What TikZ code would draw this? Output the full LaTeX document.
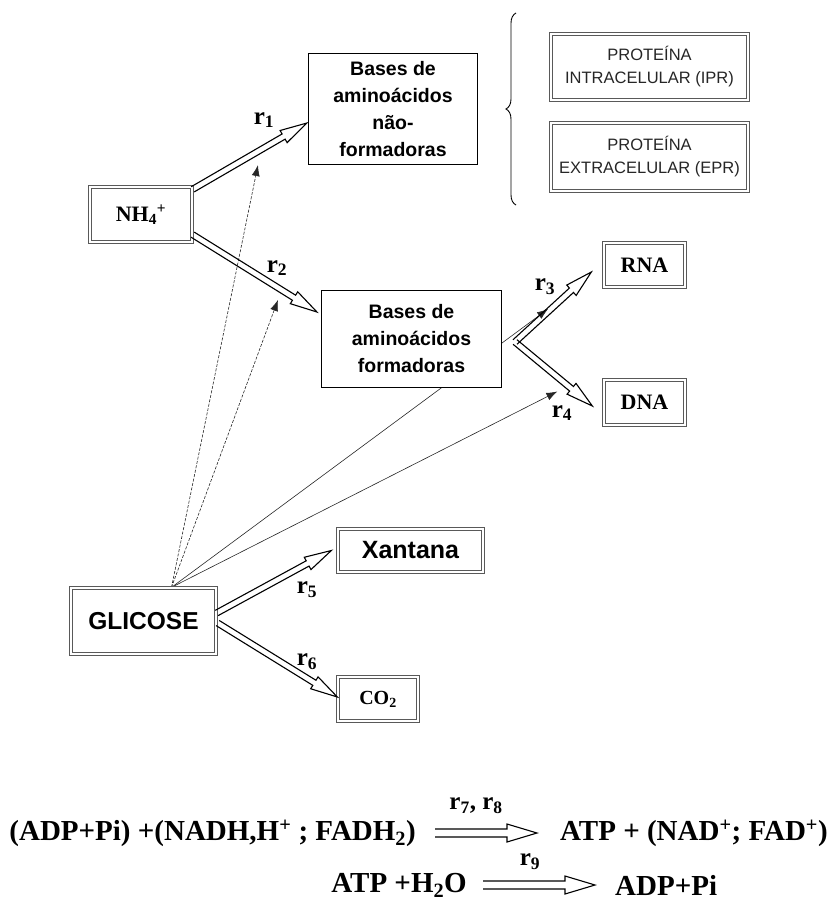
\documentclass[tikz,border=0pt]{standalone}
\usepackage{fontspec}
\setmainfont{Liberation Serif}
\setsansfont{Liberation Sans}
\usetikzlibrary{calc,arrows.meta,decorations.pathreplacing}
\pgfdeclarelayer{bg}
\pgfsetlayers{bg,main}
\tikzset{
 dbox/.style={draw=black!65, line width=1.3pt, double=white, double distance=1.6pt, fill=white, inner sep=0pt, align=center},
 sbox/.style={draw=black, line width=1.1pt, fill=white, inner sep=0pt, align=center},
 hollowline/.style={draw=black, line width=1.1pt, line join=miter},
 thinarrow/.style={draw=black!85, line width=0.6pt, -{Latex[length=11pt,width=8pt]}},
 dashedarrow/.style={thinarrow, dash pattern=on 3pt off 1.5pt},
 rlabel/.style={font=\fontsize{25}{25}\selectfont\bfseries, inner sep=0pt},
 eqtext/.style={font=\fontsize{29}{29}\selectfont\bfseries, inner sep=0pt},
 basesfont/.style={font=\sffamily\bfseries\fontsize{19.5}{27}\selectfont},
 protfont/.style={font=\sffamily\fontsize{16.5}{23}\selectfont, text=black!85},
}
% start, tip, shaft half width, head half width, head length
\newcommand\hollowarrow[5]{%
 \coordinate (ha) at (#1); \coordinate (hb) at (#2);
 \coordinate (hh) at ($(hb)!#5!(ha)$);
 \draw[hollowline] ($(ha)!#3!90:(hb)$) -- ($(hh)!#3!90:(hb)$) -- ($(hh)!#4!90:(hb)$) -- (hb)
   -- ($(hh)!#4!-90:(hb)$) -- ($(hh)!#3!-90:(hb)$) -- ($(ha)!#3!-90:(hb)$);
}
\begin{document}
\begin{tikzpicture}[x=1pt,y=-1pt]
\useasboundingbox (0,0) rectangle (837,903);

% boxes
\node[dbox, minimum width=102pt, minimum height=55pt, font=\fontsize{22}{22}\selectfont\bfseries] (nh4) at (141,214.5) {NH\textsubscript{4}\textsuperscript{+}};
\node[sbox, basesfont, minimum width=169pt, minimum height=111pt] (naof) at (393,109) {Bases de\\aminoácidos\\não-\\formadoras};
\node[dbox, protfont, minimum width=197pt, minimum height=66pt] (ipr) at (649.5,67) {PROTEÍNA\\INTRACELULAR (IPR)};
\node[dbox, protfont, minimum width=197pt, minimum height=68pt] (epr) at (649.5,157) {PROTEÍNA\\EXTRACELULAR (EPR)};
\node[sbox, basesfont, minimum width=180pt, minimum height=97pt] (form) at (411.5,339) {Bases de\\aminoácidos\\formadoras};
\node[dbox, minimum width=81pt, minimum height=44pt, font=\fontsize{22}{22}\selectfont\bfseries] (rna) at (644.5,265) {RNA};
\node[dbox, minimum width=81pt, minimum height=45pt, font=\fontsize{22}{22}\selectfont\bfseries] (dna) at (644.5,402.5) {DNA};
\node[dbox, minimum width=145pt, minimum height=43pt, font=\sffamily\bfseries\fontsize{25}{25}\selectfont] (xan) at (410.5,550.5) {Xantana};
\node[dbox, minimum width=145pt, minimum height=66pt, font=\sffamily\bfseries\fontsize{24.5}{24.5}\selectfont] (gl) at (143.5,621) {GLICOSE};
\node[dbox, minimum width=80pt, minimum height=44pt, font=\fontsize{20}{20}\selectfont\bfseries] (co2) at (378,699) {CO\textsubscript{2}};

% brace
\draw[decorate, decoration={brace, amplitude=10pt}, line width=0.9pt] (516,205) -- (516,13);

% hollow reaction arrows
\coordinate (r1s) at ($(nh4.north east)+(0,3)$);
\coordinate (r1t) at ($(naof.west)+(-1,14)$);
\coordinate (r2s) at ($(nh4.south east)+(0,-8)$);
\coordinate (r2t) at ($(form.west)+(-4,-27)$);
\coordinate (v) at (515,342);
\coordinate (r3t) at ($(rna.west)+(-12,7)$);
\coordinate (r4t) at ($(dna.west)+(-11,3.5)$);
\coordinate (r5s) at ($(gl.east)+(0,-8)$);
\coordinate (r5t) at ($(xan.west)+(-6,0)$);
\coordinate (r6s) at ($(gl.east)+(1,2)$);
\coordinate (r6t) at ($(co2.west)+(0,-2)$);
\hollowarrow{r1s}{r1t}{3pt}{7pt}{27pt}
\hollowarrow{r2s}{r2t}{3pt}{7pt}{27pt}
\hollowarrow{v}{r3t}{3pt}{7pt}{27pt}
\hollowarrow{v}{r4t}{3pt}{7pt}{27pt}
\hollowarrow{r5s}{r5t}{3pt}{7pt}{27pt}
\hollowarrow{r6s}{r6t}{3pt}{7pt}{27pt}

% labels
\node[rlabel] (l1) at (264,120) {r\textsubscript{1}};
\node[rlabel] (l2) at (277,268) {r\textsubscript{2}};
\node[rlabel] (l3) at (545,287) {r\textsubscript{3}};
\node[rlabel] (l4) at (562,413) {r\textsubscript{4}};
\node[rlabel] (l5) at (307,590) {r\textsubscript{5}};
\node[rlabel] (l6) at (307,662) {r\textsubscript{6}};

% thin connectors from glucose
\coordinate (gs) at ($(gl.north)+(28,0)$);
\coordinate (t1) at ($(naof.south west)+(-50,0)$);
\coordinate (t2) at ($(form.north west)+(-43,10)$);
\coordinate (t3) at (548,309);
\coordinate (t4) at ($(dna.west)+(-46,-11)$);
\begin{pgfonlayer}{bg}
\draw[dashedarrow] (gs) -- (t1);
\draw[dashedarrow] (gs) -- (t2);
\draw[thinarrow] (gs) -- (t3);
\draw[thinarrow] (gs) -- (t4);
\end{pgfonlayer}

% equations
\node[eqtext, anchor=east] (lhs) at (416,833) {(ADP+Pi) +(NADH,H\textsuperscript{+} ; FADH\textsubscript{2})};
\node[eqtext, anchor=west] (rhs) at (560,833) {ATP + (NAD\textsuperscript{+}; FAD\textsuperscript{+})};
\coordinate (a7) at ($(lhs.east)+(19,0)$);
\coordinate (b7) at ($(rhs.west)+(-23,0)$);
\hollowarrow{a7}{b7}{4pt}{9pt}{30pt}
\node[rlabel] (l78) at (476,806) {r\textsubscript{7}, r\textsubscript{8}};

\node[eqtext, anchor=east] (atp) at (467,885) {ATP +H\textsubscript{2}O};
\node[eqtext, anchor=west] (adp) at (615,885) {ADP+Pi};
\coordinate (a9) at ($(atp.east)+(16,0)$);
\coordinate (b9) at ($(adp.west)+(-20,0)$);
\hollowarrow{a9}{b9}{4pt}{9pt}{30pt}
\node[rlabel] (l9) at (530,862) {r\textsubscript{9}};
\end{tikzpicture}
\end{document}
